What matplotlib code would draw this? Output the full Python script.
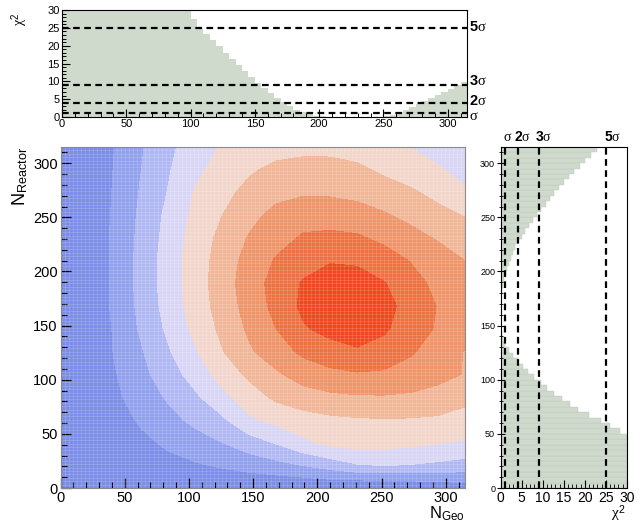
"""
plot.py

2D likelihood map of N_Geo vs N_Reactor with the two chi2 profiles
drawn as side panels (top: vs N_Geo, right: vs N_Reactor).
"""

import matplotlib

matplotlib.use("Agg")

import matplotlib.pyplot as plt
import numpy as np

plt.rcParams["font.family"] = ["Liberation Sans", "DejaVu Sans"]
plt.rcParams["mathtext.fontset"] = "custom"
plt.rcParams["mathtext.rm"] = "Liberation Sans"
plt.rcParams["mathtext.bf"] = "Liberation Sans:bold"
# greek letters (sigma, chi) come out in a serif face like ROOT's Symbol font
plt.rcParams["mathtext.it"] = "Liberation Serif"

# ---------------------------------------------------------------------------
# data
# ---------------------------------------------------------------------------

# grid nodes (N_Geo, N_Reactor) at which the colour level was estimated
grid_geo = [0, 21, 42, 63, 84, 105, 126, 147, 168, 189, 210, 231, 252, 273, 294, 315]
grid_reactor = [0, 21, 42, 63, 84, 105, 126, 147, 168, 189, 210, 231, 252, 273, 294, 315]

# colour band level (0 = outer blue ... 8 = red core), one row per N_Reactor node
level_rows = [
    [-0.3, 0.0, 0.1, 0.2, 0.3, 0.3, 0.35, 0.1, 0.07, 0.06, 0.11, -0.07, 0.0, 0.12, 0.28, 0.5],
    [-0.2, 0.2, 0.4, 0.6, 0.75, 0.9, 1.1, 1.4, 1.7, 2.03, 2.45, 2.92, 3.03, 2.95, 2.8, 2.6],
    [-0.3, 0.15, 0.5, 0.8, 1.15, 1.6, 2.0, 2.55, 3.08, 3.8, 4.3, 4.45, 4.4, 4.25, 4.08, 3.9],
    [-0.4, 0.1, 0.6, 1.13, 1.68, 2.25, 2.83, 3.85, 4.3, 4.6, 4.8, 4.9, 4.95, 4.92, 4.85, 4.6],
    [-0.5, 0.1, 0.8, 1.45, 2.13, 2.83, 3.73, 4.52, 5.2, 5.55, 5.8, 5.9, 5.92, 5.85, 5.65, 5.3],
    [-0.6, 0.12, 0.93, 1.73, 2.54, 3.43, 4.39, 5.21, 5.85, 6.45, 6.75, 6.9, 6.85, 6.6, 6.3, 5.95],
    [-0.8, 0.15, 1.05, 1.92, 2.9, 3.9, 4.95, 5.87, 6.55, 7.2, 7.6, 7.9, 7.6, 7.1, 6.55, 5.95],
    [-1.0, 0.05, 1.1, 2.15, 3.2, 4.27, 5.23, 6.17, 7.0, 7.9, 8.3, 8.4, 8.15, 7.45, 6.9, 6.5],
    [-1.0, 0.1, 1.2, 2.26, 3.39, 4.45, 5.43, 6.39, 7.3, 8.2, 8.45, 8.45, 8.3, 7.65, 6.95, 6.5],
    [-1.0, 0.1, 1.2, 2.33, 3.47, 4.52, 5.52, 6.5, 7.37, 8.1, 8.35, 8.3, 8.05, 7.35, 6.75, 6.3],
    [-1.0, 0.1, 1.2, 2.33, 3.47, 4.48, 5.45, 6.37, 7.1, 7.6, 7.95, 7.9, 7.45, 6.95, 6.5, 6.0],
    [-0.9, 0.15, 1.2, 2.26, 3.37, 4.42, 5.28, 6.08, 6.63, 7.12, 7.2, 7.13, 6.78, 6.35, 5.9, 5.45],
    [-0.95, 0.1, 1.15, 2.2, 3.26, 4.25, 5.0, 5.7, 6.3, 6.6, 6.6, 6.45, 6.1, 5.71, 5.33, 4.95],
    [-0.9, 0.1, 1.1, 2.1, 3.05, 4.09, 4.7, 5.3, 5.7, 5.88, 5.85, 5.7, 5.45, 5.15, 4.69, 4.08],
    [-0.9, 0.1, 1.05, 2.0, 2.91, 3.79, 4.37, 4.86, 5.25, 5.38, 5.38, 5.2, 4.82, 4.45, 4.07, 3.8],
    [-0.8, 0.09, 1.0, 1.91, 2.79, 3.48, 4.08, 4.35, 4.6, 4.72, 4.7, 4.55, 4.3, 3.97, 3.75, 3.55],
]
band_edges = [-2, 1, 2, 3, 4, 5, 6, 7, 8, 9]
band_colors = [
    "#7b8de6", "#91a1ee", "#b0b8f3", "#d9d6f5", "#f3d6cb",
    "#f1b697", "#ee9569", "#ed7242", "#ee4821",
]

# chi2 profiles, 5-unit bins from 0 to 315
chi2_geo = [30.0] * 20 + [
    27.5, 25.0, 23.2, 21.5, 19.8, 18.0, 16.3, 14.6, 12.8, 11.1,
    9.5, 8.0, 6.6, 5.3, 4.1, 3.0, 2.1, 1.4, 0.8, 0.4,
    0.15, 0.05, 0, 0, 0, 0, 0, 0, 0, 0,
    0.3, 0.7, 1.3, 2.0, 2.8, 3.6, 4.4, 5.2, 6.1, 7.0, 7.9, 8.9, 9.9,
]
chi2_reactor = [30.0] * 10 + [
    28.5, 26.0, 23.8, 21.0, 18.3, 16.5, 14.6, 12.7, 11.0, 9.5,
    8.0, 6.6, 5.3, 4.0, 2.9, 1.9, 1.1, 0.5, 0.2, 0.05,
    0, 0, 0, 0,
    0.05, 0.15, 0.3, 0.5, 0.8, 1.2, 1.6, 2.0, 2.5, 3.0,
    3.5, 4.2, 5.0, 5.9, 6.8, 7.7, 8.7, 9.7, 10.7, 11.7,
    12.7, 13.8, 15.0, 16.2, 17.5, 18.8, 20.1, 21.5, 23.0,
]

# significance lines
sigma_chi2 = [1, 4, 9, 25]
sigma_labels = [r"$\sigma$", r"$\mathbf{2}\sigma$", r"$\mathbf{3}\sigma$", r"$\mathbf{5}\sigma$"]

FILL = "#cfdacd"
W, H = 641, 524


def frac(x0, y0, x1, y1):
    """pixel box (left, top, right, bottom) -> figure fraction rect."""
    return [x0 / W, 1 - y1 / H, (x1 - x0) / W, (y1 - y0) / H]


def style_axis(ax, spine_color="black"):
    for side in ("top", "right", "bottom", "left"):
        ax.spines[side].set_color(spine_color)
        ax.spines[side].set_linewidth(0.8)
    ax.tick_params(which="both", direction="in", top=False, right=False, color="black")


fig = plt.figure(figsize=(W / 100, H / 100), dpi=100)

# 1. main 2D map ----------------------------------------------------------------
ax = fig.add_axes(frac(60.5, 147, 465, 488))
ax.contourf(grid_geo, grid_reactor, np.array(level_rows), levels=band_edges, colors=band_colors)

# faint white cell pattern on top of the map
for v in np.arange(0, 315, 3.15):
    ax.axvline(v, color="white", lw=0.5, alpha=0.2)
    ax.axhline(v, color="white", lw=0.5, alpha=0.2)

ax.set_xlim(0, 315)
ax.set_ylim(0, 315)
ax.set_xticks(range(0, 301, 50))
ax.set_yticks(range(0, 301, 50))
ax.set_xticks(range(0, 316, 10), minor=True)
ax.set_yticks(range(0, 316, 10), minor=True)
style_axis(ax, "#8a8a8a")
ax.tick_params(which="major", length=7, width=0.9, labelsize=10.5, pad=2)
ax.tick_params(which="minor", length=4, width=0.8)
ax.set_xlabel(r"N$_{\mathregular{Geo}}$", fontsize=12, ha="right", va="top")
ax.xaxis.set_label_coords(1.0, -0.05)
ax.set_ylabel(r"N$_{\mathregular{Reactor}}$", fontsize=13, ha="right", va="center")
ax.yaxis.set_label_coords(-0.1, 1.0)

# 2. top panel: chi2 vs N_Geo ---------------------------------------------------
edges = np.arange(0, 320, 5)
axt = fig.add_axes(frac(62, 10, 467, 117))
axt.stairs(chi2_geo, edges, fill=True, color=FILL)
for c in sigma_chi2:
    axt.axhline(c, color="black", lw=1.6, ls=(0, (3, 2)))
axt.set_xlim(0, 315)
axt.set_ylim(0, 30)
axt.set_xticks(range(0, 301, 50))
axt.set_yticks(range(0, 31, 5))
axt.set_xticks(range(0, 316, 10), minor=True)
axt.set_yticks(range(0, 31, 1), minor=True)
style_axis(axt)
axt.tick_params(which="major", length=6, width=0.8, labelsize=8, pad=1.5)
axt.tick_params(which="minor", length=3, width=0.7)
axt.set_ylabel(r"$\chi^2$", fontsize=10, ha="right", va="center")
axt.yaxis.set_label_coords(-0.106, 0.98)
for c, lab, dy in zip(sigma_chi2, sigma_labels, [-0.6, 0.6, 1.2, 0.2]):
    axt.text(1.006, c + dy, lab, transform=axt.get_yaxis_transform(),
             ha="left", va="center", fontsize=10.5)

# 3. right panel: chi2 vs N_Reactor ---------------------------------------------
axr = fig.add_axes(frac(500.7, 147, 626.7, 488))
axr.barh(edges[:-1], chi2_reactor, height=5, align="edge", color=FILL,
         edgecolor="#bcc8bb", linewidth=0.3)
for c in sigma_chi2:
    axr.axvline(c, color="black", lw=1.6, ls=(0, (3, 2)))
axr.set_xlim(0, 30)
axr.set_ylim(0, 315)
axr.set_xticks(range(0, 31, 5))
axr.set_yticks(range(0, 301, 50))
axr.set_xticks(range(0, 31, 1), minor=True)
axr.set_yticks(range(0, 316, 10), minor=True)
style_axis(axr)
axr.tick_params(axis="y", which="major", direction="inout", length=6, labelsize=6.5, pad=1)
axr.tick_params(axis="y", which="minor", direction="inout", length=3)
axr.tick_params(axis="x", which="major", length=6, labelsize=10, pad=2)
axr.tick_params(axis="x", which="minor", length=3)
axr.set_xlabel(r"$\chi^2$", fontsize=11, ha="right", va="top")
axr.xaxis.set_label_coords(0.99, -0.044)
for c, lab, xc in zip(sigma_chi2, sigma_labels, [1.6, 5.3, 10.3, 26.7]):
    axr.text(xc, 1.008, lab, transform=axr.get_xaxis_transform(),
             ha="center", va="bottom", fontsize=10)

fig.savefig("out.png", dpi=100)
